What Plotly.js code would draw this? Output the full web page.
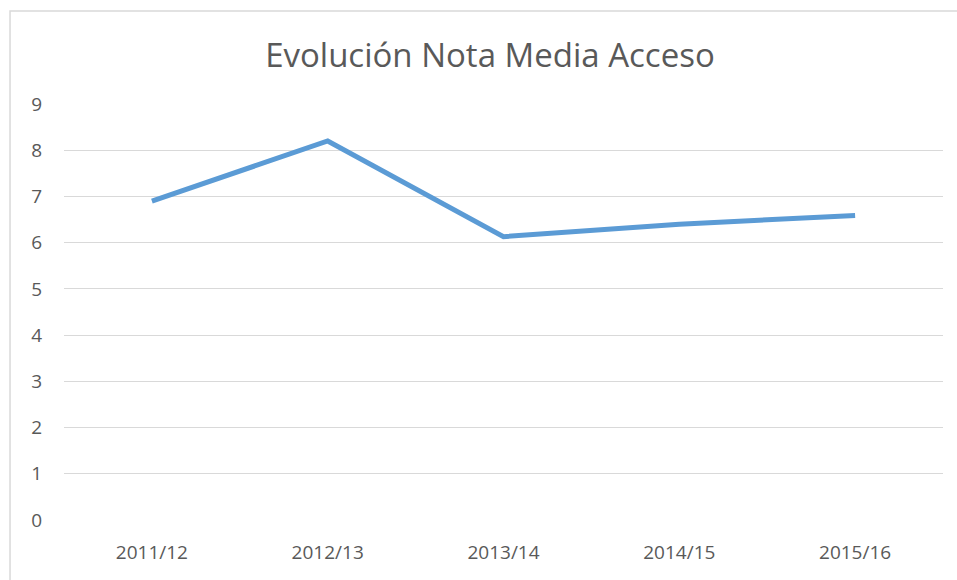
<!DOCTYPE html>
<html>
<head>
<meta charset="utf-8">
<script src="https://cdn.plot.ly/plotly-3.0.1.min.js"></script>
<style>
  html, body { margin: 0; padding: 0; background: #ffffff; }
  #chart { width: 957px; height: 580px; }
</style>
</head>
<body>
<div id="chart"></div>
<script>
// Nota media de acceso por curso
const cursos = ['2011/12', '2012/13', '2013/14', '2014/15', '2015/16'];
const notaMedia = [6.9, 8.2, 6.13, 6.4, 6.59];
const yTicks = [0, 1, 2, 3, 4, 5, 6, 7, 8, 9];

const textColor = '#595959';
const gridColor = '#d9d9d9';

const trace = {
    x: cursos,
    y: notaMedia,
    type: 'scatter',
    mode: 'lines',
    line: {color: '#5b9bd5', width: 5, shape: 'linear'},
    hoverinfo: 'x+y'
};

const layout = {
    width: 957,
    height: 580,
    margin: {l: 64, r: 14, t: 104, b: 60},
    paper_bgcolor: '#ffffff',
    plot_bgcolor: '#ffffff',
    showlegend: false,
    font: {family: 'Open Sans, sans-serif', color: textColor},
    title: {
        text: 'Evolución Nota Media Acceso',
        font: {size: 33, color: textColor, family: 'Open Sans, sans-serif'},
        xref: 'paper', x: 0.4846, xanchor: 'center',
        yref: 'container', y: 0.905, yanchor: 'middle'
    },
    xaxis: {
        type: 'category',
        range: [-0.5, cursos.length - 0.5],
        showgrid: false,
        zeroline: false,
        showline: false,
        ticks: '',
        ticklabelstandoff: 19,
        tickfont: {size: 19, color: textColor}
    },
    yaxis: {
        range: [0, 9],
        tickvals: yTicks,
        showgrid: true,
        gridcolor: gridColor,
        gridwidth: 1,
        zeroline: false,
        showline: false,
        ticks: '',
        ticklabelstandoff: 21,
        tickfont: {size: 19, color: textColor},
        fixedrange: true
    },
    shapes: [{
        type: 'rect',
        xref: 'paper', yref: 'paper',
        x0: -0.0614, x1: 1.2,
        y0: -0.4, y1: 1.2236,
        line: {color: gridColor, width: 1.5},
        fillcolor: 'rgba(0,0,0,0)',
        layer: 'below'
    }]
};

Plotly.newPlot('chart', [trace], layout, {displayModeBar: false, staticPlot: true});
</script>
</body>
</html>
